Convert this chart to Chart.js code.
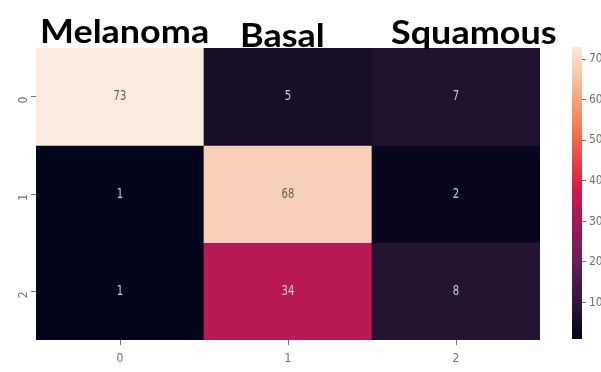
<!DOCTYPE html>
<html>
<head>
<meta charset="utf-8">
<script src="https://cdn.jsdelivr.net/npm/chart.js@4"></script>
<style>
  html, body { margin: 0; padding: 0; background: #fff; }
  body { width: 601px; height: 372px; overflow: hidden; position: relative; }
  #hm { position: absolute; left: 0; top: 0; }
  #cbar { position: absolute; left: 540px; top: 0; }
</style>
</head>
<body>
<canvas id="hm" width="601" height="372"></canvas>
<canvas id="cbar" width="80" height="372"></canvas>
<script>
// Confusion matrix: rows = true class index, columns = predicted class index
const rowLabels = ['0', '1', '2'];
const colLabels = ['0', '1', '2'];
const classNames = ['Melanoma', 'Basal', 'Squamous'];
const row0 = [73, 5, 7];
const row1 = [1, 68, 2];
const row2 = [1, 34, 8];
const matrix = [row0, row1, row2];
const colorbarTicks = [10, 20, 30, 40, 50, 60, 70];

const flat = matrix.flat();
const vmin = Math.min(...flat);
const vmax = Math.max(...flat);

// "rocket" style sequential colormap
const rocket = [
  [0.000, [3, 5, 26]],
  [0.143, [53, 25, 62]],
  [0.286, [112, 31, 87]],
  [0.429, [173, 23, 89]],
  [0.500, [203, 27, 79]],
  [0.571, [225, 51, 66]],
  [0.714, [243, 118, 81]],
  [0.857, [246, 180, 143]],
  [1.000, [250, 235, 221]]
];
function rocketAt(t) {
  t = Math.max(0, Math.min(1, t));
  for (let i = 1; i < rocket.length; i++) {
    const [t1, c1] = rocket[i];
    const [t0, c0] = rocket[i - 1];
    if (t <= t1) {
      const f = (t - t0) / (t1 - t0);
      return c0.map((v, k) => Math.round(v + (c1[k] - v) * f));
    }
  }
  return rocket[rocket.length - 1][1];
}
const norm = v => (v - vmin) / (vmax - vmin);
const colorFor = v => { const c = rocketAt(norm(v)); return `rgb(${c[0]},${c[1]},${c[2]})`; };
const textFor = v => {
  const c = rocketAt(norm(v));
  const lum = 0.2126 * c[0] + 0.7152 * c[1] + 0.0722 * c[2];
  return lum > 128 ? '#606060' : '#d0ccd6';
};

const narrow = "'DejaVu Sans Condensed', sans-serif";
const tickFont = { family: narrow, size: 12 };
const tickColor = '#707070';

// Cell annotations and class headings
const annotate = {
  id: 'annotate',
  afterDatasetsDraw(chart) {
    const ctx = chart.ctx;
    ctx.font = `14px ${narrow}`;
    ctx.textAlign = 'center';
    ctx.textBaseline = 'middle';
    chart.data.datasets.forEach((ds, r) => {
      chart.getDatasetMeta(r).data.forEach((bar, c) => {
        const v = matrix[r][c];
        const p = bar.getCenterPoint();
        ctx.save();
        ctx.translate(p.x, p.y);
        ctx.scale(0.8, 1);
        ctx.fillStyle = textFor(v);
        ctx.fillText(String(v), 0, 0);
        ctx.restore();
      });
    });
  },
  afterDraw(chart) {
    const ctx = chart.ctx;
    ctx.fillStyle = '#000';
    ctx.textBaseline = 'alphabetic';
    ctx.textAlign = 'left';
    ctx.font = "bold 33px Lato, 'Open Sans', sans-serif";
    const heads = [[40, 43], [240, 47], [391, 44]];
    classNames.forEach((name, i) => {
      ctx.save();
      ctx.translate(heads[i][0], heads[i][1]);
      ctx.scale(1.09, 1);
      ctx.fillText(name, 0, 0);
      ctx.restore();
    });
  }
};

new Chart(document.getElementById('hm'), {
  type: 'bar',
  data: {
    labels: colLabels,
    datasets: matrix.map((row, r) => ({
      data: row.map(() => [r, r + 1]),
      backgroundColor: row.map(colorFor),
      borderWidth: 0,
      barPercentage: 1,
      categoryPercentage: 1,
      grouped: false
    }))
  },
  options: {
    responsive: false,
    animation: false,
    layout: { padding: { top: 48, right: 61, left: 0, bottom: 0 } },
    plugins: { legend: { display: false }, tooltip: { enabled: false } },
    scales: {
      x: {
        type: 'category',
        grid: { offset: false, drawOnChartArea: false, tickLength: 5, color: tickColor },
        border: { display: false },
        ticks: { font: tickFont, color: tickColor, padding: 7, maxRotation: 0 },
        afterFit(scale) { scale.height = 32; }
      },
      y: {
        type: 'linear',
        min: 0, max: 3, reverse: true,
        afterBuildTicks(scale) { scale.ticks = rowLabels.map((_, i) => ({ value: i + 0.5 })); },
        grid: { drawOnChartArea: false, tickLength: 5, color: tickColor },
        border: { display: false },
        ticks: {
          font: tickFont, color: tickColor, padding: 7,
          minRotation: 90, maxRotation: 90,
          callback: (val, idx) => rowLabels[idx]
        },
        afterFit(scale) { scale.width = 36; }
      }
    }
  },
  plugins: [annotate]
});

// Colour bar
new Chart(document.getElementById('cbar'), {
  type: 'bar',
  data: {
    labels: [''],
    datasets: [{
      data: [[vmin, vmax]],
      borderWidth: 0,
      barPercentage: 1,
      categoryPercentage: 1,
      backgroundColor(context) {
        const chart = context.chart;
        if (!chart.chartArea) return '#000';
        const ys = chart.scales.y;
        const g = chart.ctx.createLinearGradient(0, ys.getPixelForValue(vmin), 0, ys.getPixelForValue(vmax));
        for (let i = 0; i <= 40; i++) {
          const c = rocketAt(i / 40);
          g.addColorStop(i / 40, `rgb(${c[0]},${c[1]},${c[2]})`);
        }
        return g;
      }
    }]
  },
  options: {
    responsive: false,
    animation: false,
    layout: { padding: { top: 47, bottom: 33, left: 32, right: 0 } },
    plugins: { legend: { display: false }, tooltip: { enabled: false } },
    scales: {
      x: { display: false },
      y: {
        position: 'right',
        type: 'linear',
        min: vmin, max: vmax,
        afterBuildTicks(scale) { scale.ticks = colorbarTicks.map(v => ({ value: v })); },
        grid: { drawOnChartArea: false, tickLength: 4, color: tickColor },
        border: { display: false },
        ticks: { font: tickFont, color: tickColor, padding: 3, callback: v => String(v) },
        afterFit(scale) { scale.width = 38; }
      }
    }
  }
});
</script>
</body>
</html>
